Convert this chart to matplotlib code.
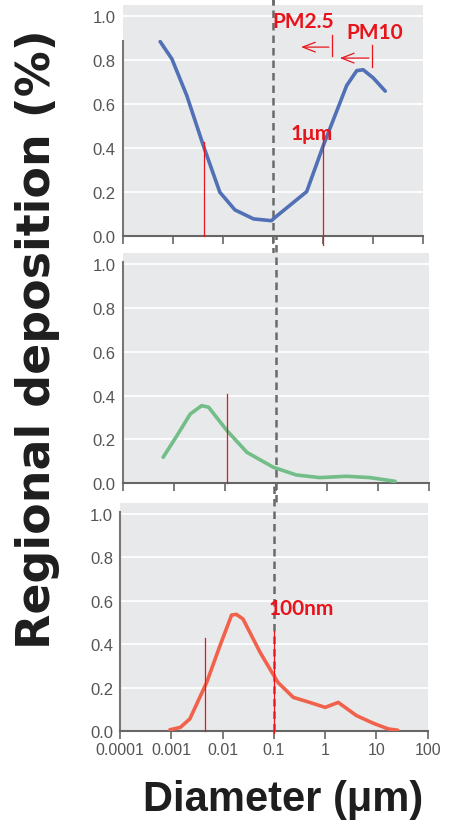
import matplotlib
matplotlib.use("Agg")
import matplotlib.pyplot as plt

# data (diameter in um, deposition fraction)
blue_d = [0.00056, 0.00096, 0.0019, 0.0041, 0.0087, 0.0174, 0.041, 0.093, 0.11, 0.47, 1.0, 2.95, 4.7, 6.3, 10, 17.4]
blue_y = [0.885, 0.806, 0.64, 0.41, 0.20, 0.12, 0.079, 0.071, 0.086, 0.203, 0.41, 0.685, 0.753, 0.757, 0.72, 0.66]

green_d = [0.00062, 0.00115, 0.0021, 0.0035, 0.0048, 0.011, 0.027, 0.089, 0.25, 0.72, 2.4, 6.9, 21.4]
green_y = [0.119, 0.217, 0.316, 0.354, 0.347, 0.24, 0.141, 0.073, 0.038, 0.026, 0.032, 0.026, 0.009]

red_d = [0.00094, 0.0015, 0.0023, 0.0049, 0.0089, 0.015, 0.0186, 0.025, 0.054, 0.12, 0.24, 0.5, 1.0, 1.8, 4.1, 8.7, 17, 26]
red_y = [0.007, 0.018, 0.057, 0.225, 0.394, 0.535, 0.538, 0.517, 0.363, 0.225, 0.156, 0.133, 0.11, 0.133, 0.072, 0.037, 0.011, 0.005]

xticks = [0.0001, 0.001, 0.01, 0.1, 1, 10, 100]
xtick_labels = ["0.0001", "0.001", "0.01", "0.1", "1", "10", "100"]
yticks = [0.0, 0.2, 0.4, 0.6, 0.8, 1.0]

# red marker lines: (x, y_low, y_high) per panel
top_marks = [(0.0041, 0.0, 0.427), (1.0, -0.04, 0.47)]
mid_marks = [(0.011, 0.0, 0.407)]
bot_marks = [(0.0046, 0.0, 0.428), (0.1, -0.01, 0.463)]

W, H = 449, 829
RED = "#e8141c"
GRAY_BG = "#e8e9eb"
TICK_FONT = ["Liberation Sans", "DejaVu Sans"]

fig = plt.figure(figsize=(W / 100, H / 100), dpi=100)


def make_axes(left, right, y0, per_unit):
    h = per_unit * 1.05
    return fig.add_axes([left / W, (H - y0) / H, (right - left) / W, h / H])


ax_top = make_axes(122.7, 423.3, 237.3, 220.0)
ax_mid = make_axes(122.7, 429.3, 484.3, 219.3)
ax_bot = make_axes(120.0, 427.7, 732.3, 217.3)

panels = [
    (ax_top, blue_d, blue_y, "#5170b6", top_marks, 0.89, -0.08),
    (ax_mid, green_d, green_y, "#72bd88", mid_marks, 1.01, -0.08),
    (ax_bot, red_d, red_y, "#f0624c", bot_marks, 1.01, 0.0),
]

for ax, d, y, color, marks, spine_top, dash_low in panels:
    ax.set_facecolor(GRAY_BG)
    ax.set_xscale("log")
    ax.set_xlim(1e-4, 100)
    ax.set_ylim(0, 1.05)
    ax.set_yticks(yticks)
    ax.set_yticklabels([f"{v:.1f}" for v in yticks], family=TICK_FONT, fontsize=12, color="#555555")
    ax.set_xticks(xticks)
    ax.minorticks_off()
    ax.tick_params(axis="y", length=0, pad=5)
    ax.tick_params(axis="x", length=6, width=1.2, color="#666666", direction="out")
    ax.yaxis.grid(True, color="white", linewidth=1.3)
    ax.set_axisbelow(True)
    for s in ["top", "right"]:
        ax.spines[s].set_visible(False)
    ax.spines["left"].set_color("#777777")
    ax.spines["left"].set_linewidth(1.5)
    ax.spines["left"].set_bounds(0, spine_top)
    ax.spines["bottom"].set_color("#666666")
    ax.spines["bottom"].set_linewidth(1.5)

    # dashed 0.1 um divider, bridging the gaps between panels
    ax.axvline(0.1, ymin=dash_low, ymax=1.08, color="#6a6a6a", linestyle=(0, (3, 2)),
               linewidth=1.8, clip_on=False, zorder=2)
    ax.plot(d, y, color=color, linewidth=2.6, solid_joinstyle="round", solid_capstyle="round", zorder=3)
    for mx, ylo, yhi in marks:
        ax.plot([mx, mx], [ylo, yhi], color=RED, linewidth=0.9, clip_on=False, zorder=4)

    if ax is ax_bot:
        ax.set_xticklabels(xtick_labels, family=TICK_FONT, fontsize=11.5, color="#555555")
        ax.tick_params(axis="x", pad=2)
    else:
        ax.set_xticklabels([])

# top dashed line continues to the top edge
ax_top.axvline(0.1, ymin=1.0, ymax=1.03, color="#6a6a6a", linestyle=(0, (3, 2)),
               linewidth=1.8, clip_on=False)

# annotations
lab = dict(color=RED, fontweight="bold", fontsize=15, family=["Lato", "DejaVu Sans"],
           ha="center", va="center")
ax_top.text(0.60, 0.47, "1\u03bcm", **lab)
ax_top.text(0.40, 0.977, "PM2.5", **lab)
ax_top.text(10.7, 0.93, "PM10", **lab)
ax_bot.text(0.35, 0.566, "100nm", **lab)

arrow = dict(arrowstyle="->,head_length=0.9,head_width=0.35", color=RED, lw=0.9)
ax_top.annotate("", xy=(0.32, 0.86), xytext=(1.48, 0.86), arrowprops=arrow)
ax_top.plot([1.48, 1.48], [0.818, 0.914], color=RED, linewidth=0.9)
ax_top.annotate("", xy=(1.9, 0.81), xytext=(9.3, 0.81), arrowprops=arrow)
ax_top.plot([9.3, 9.3], [0.768, 0.868], color=RED, linewidth=0.9)

fig.text(38 / W, 1 - 339 / H, "Regional deposition (%)", rotation=90, ha="center", va="center",
         fontsize=33, fontweight="bold", color="#1e1e1e", family=["DejaVu Sans"])
fig.text(283 / W, 1 - 800 / H, "Diameter (\u03bcm)", ha="center", va="center",
         fontsize=30, fontweight="bold", color="#1e1e1e", family=TICK_FONT)

fig.savefig("out.png", dpi=100)
